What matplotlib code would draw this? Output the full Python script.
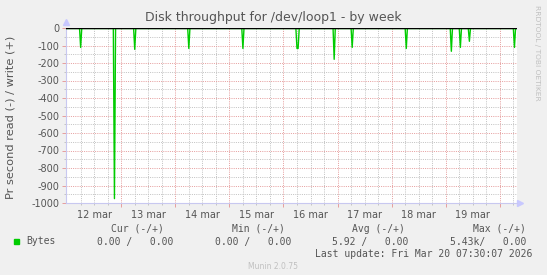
import matplotlib
matplotlib.use("Agg")
import matplotlib.pyplot as plt
import matplotlib.transforms as mtransforms
import numpy as np

# hours since 12 mar 00:00, 30 minute samples
t_start, t_end, step = -0.5, 199.5, 0.5
spike_hours = [6.0, 21.0, 30.0, 54.0, 78.0, 102.0, 102.5, 118.5, 126.5,
               150.5, 170.5, 174.5, 178.5, 198.5]
spike_read = [-111, -975, -122, -117, -117, -117, -117, -179, -111,
              -117, -133, -111, -76, -111]

day_labels = ["12 mar", "13 mar", "14 mar", "15 mar",
              "16 mar", "17 mar", "18 mar", "19 mar"]
day_label_hours = [12, 36, 60, 84, 108, 132, 156, 180]
y_ticks = [0, -100, -200, -300, -400, -500, -600, -700, -800, -900, -1000]

legend_cols = ["Cur (-/+)", "Min (-/+)", "Avg (-/+)", "Max (-/+)"]
legend_vals = ["0.00 /   0.00", "0.00 /   0.00", "5.92 /   0.00", "5.43k/   0.00"]

t = np.arange(t_start, t_end + step / 2, step)
read = np.zeros_like(t)
for h, v in zip(spike_hours, spike_read):
    read[np.argmin(np.abs(t - h))] = v
write = np.zeros_like(t)

W, H = 547, 275
fig = plt.figure(figsize=(W / 100, H / 100), dpi=100)
fig.patch.set_facecolor("#f0f0f0")
ax = fig.add_axes([66 / W, 1 - 203 / H, (516.7 - 66) / W, (203 - 28) / H])
ax.set_facecolor("white")

ax.set_xlim(t_start, t_end)
ax.set_ylim(-1000, 0)

dots = (0, (1, 1.2))
minor_c = "#c4c4c4"
major_c = "#e6a0a0"
minor_y = [y for y in np.arange(-950, 0, 50) if y % 100 != 0]
minor_x = [x for x in np.arange(6, t_end, 6) if x % 24 != 0]
major_x = list(np.arange(24, t_end, 24))

# grid
for y in minor_y:
    ax.axhline(y, color=minor_c, lw=0.72, ls=dots, zorder=1)
for x in minor_x:
    ax.axvline(x, color=minor_c, lw=0.72, ls=dots, zorder=1)
for y in y_ticks[1:-1]:
    ax.axhline(y, color=major_c, lw=0.72, ls=dots, zorder=1.5)
for x in major_x:
    ax.axvline(x, color=major_c, lw=0.72, ls=dots, zorder=1.5)

# small ticks outside the axes
tx = mtransforms.blended_transform_factory(ax.transData, ax.transAxes)
ax.vlines(minor_x, -0.012, 0, color=minor_c, lw=0.72, transform=tx, clip_on=False)
ax.vlines(major_x, -0.025, 0, color=major_c, lw=0.72, transform=tx, clip_on=False)
ty = mtransforms.blended_transform_factory(ax.transAxes, ax.transData)
ax.hlines(minor_y, -0.004, 0, color=minor_c, lw=0.72, transform=ty, clip_on=False)
ax.hlines(y_ticks, -0.008, 0, color=major_c, lw=0.72, transform=ty, clip_on=False)

ax.plot(t, read, color="#00cc00", lw=1.0, zorder=3)
ax.plot(t, write, color="#00cc00", lw=1.0, zorder=3)
ax.axhline(0, color="black", lw=1.0, zorder=4)

for s in ["top", "right"]:
    ax.spines[s].set_visible(False)
for s in ["left", "bottom"]:
    ax.spines[s].set_color("#c8c8f0")
    ax.spines[s].set_linewidth(0.8)

ax.set_yticks(y_ticks)
ax.set_yticklabels([str(v) for v in y_ticks])
ax.set_xticks(day_label_hours)
ax.set_xticklabels(day_labels)
ax.tick_params(axis="both", length=0, labelsize=7, colors="#555555")
ax.tick_params(axis="y", pad=5)
ax.tick_params(axis="x", pad=5)

# axis arrows
ax.plot([0], [1.035], marker="^", color="#c8c8ff", ms=4, transform=ax.transAxes, clip_on=False)
ax.plot([1.008], [0], marker=">", color="#c8c8ff", ms=4, transform=ax.transAxes, clip_on=False)

fig.text(273 / W, 1 - 18 / H, "Disk throughput for /dev/loop1 - by week",
         ha="center", va="center", fontsize=9, color="#555555")
fig.text(10.5 / W, 1 - 117 / H, "Pr second read (-) / write (+)", rotation=90,
         ha="center", va="center", fontsize=8.2, color="#555555")
fig.text(537 / W, 1 - 5 / H, "RRDTOOL / TOBI OETIKER", rotation=270,
         ha="center", va="top", fontsize=5.4, color="#c0c0c0")

mono = "DejaVu Sans Mono"
col_x = [137.5, 258, 378.5, 499]
for x, s in zip(col_x, legend_cols):
    fig.text(x / W, 1 - 228.6 / H, s, ha="center", va="center",
             fontsize=7, family=mono, color="#555555")
fig.patches.append(plt.Rectangle((14 / W, 1 - 244 / H), 5 / W, 5 / H,
                                 transform=fig.transFigure, color="#00cc00"))
fig.text(26 / W, 1 - 241.5 / H, "Bytes", ha="left", va="center",
         fontsize=7, family=mono, color="#555555")
val_x = [173.4, 291.2, 408.8, 526.7]
for x, s in zip(val_x, legend_vals):
    fig.text(x / W, 1 - 241.5 / H, s, ha="right", va="center",
             fontsize=7, family=mono, color="#555555")
fig.text(532.6 / W, 1 - 254 / H, "Last update: Fri Mar 20 07:30:07 2026",
         ha="right", va="center", fontsize=7, family=mono, color="#555555")
fig.text(272.7 / W, 1 - 266.6 / H, "Munin 2.0.75", ha="center", va="center",
         fontsize=5.5, color="#c0c0c0")

fig.savefig("out.png", dpi=100, facecolor=fig.get_facecolor())
